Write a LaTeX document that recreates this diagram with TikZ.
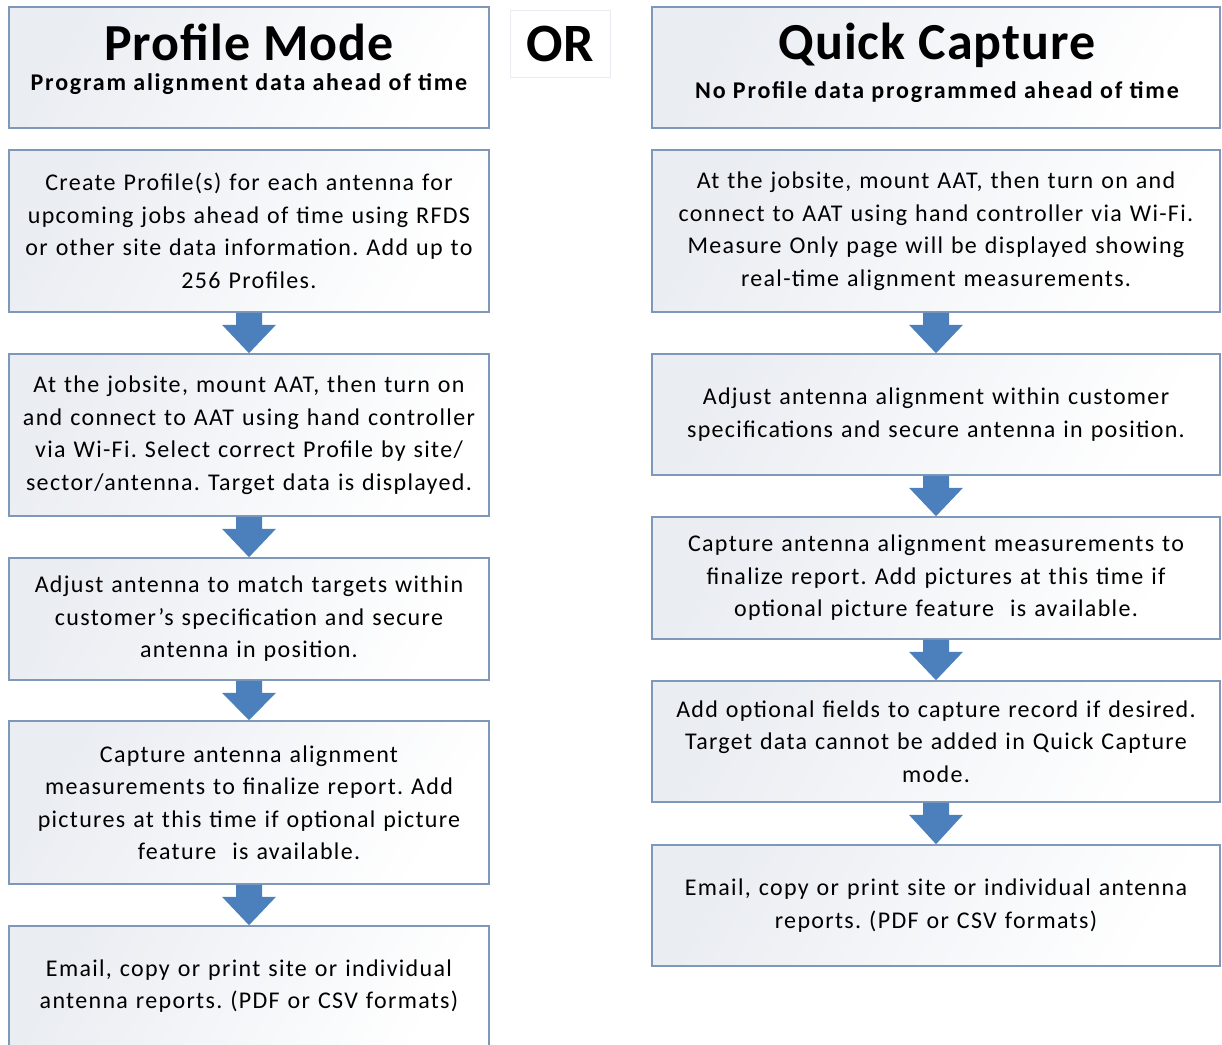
\documentclass[tikz,border=0pt]{standalone}
\usepackage{fontspec}
\setmainfont{Carlito}
\newfontfamily\bodyfont[LetterSpace=5.5]{Carlito}
\newfontfamily\subfont[LetterSpace=7.5]{Carlito}
\newfontfamily\titlefont[LetterSpace=2]{Carlito}
\usetikzlibrary{calc}
\definecolor{boxborder}{RGB}{125,152,185}
\definecolor{boxgray}{RGB}{234,237,242}
\definecolor{arrowblue}{RGB}{76,128,189}
\definecolor{orborder}{RGB}{232,236,240}
\tikzset{
  flowbox/.style={draw=boxborder, line width=1.6pt, left color=boxgray, right color=white, shading angle=60,
    rectangle, inner sep=0pt, align=center, font=\bodyfont\frenchspacing\fontsize{24}{32.5}\selectfont},
  lbox/.style={flowbox, minimum width=480, text width=478},
  rbox/.style={flowbox, minimum width=568, text width=566},
  titletext/.style={inner sep=0pt, font=\titlefont\bfseries\fontsize{52}{56}\selectfont},
  subtext/.style={inner sep=0pt, font=\subfont\bfseries\fontsize{24}{27}\selectfont},
}
\newcommand\blkarrow[2]{%
  \fill[arrowblue] ($(#1.south)+(-13,0)$) -- ($(#1.south)+(13,0)$) -- ($(#1.south)+(13,-12)$)
   -- ($(#1.south)+(27,-12)$) -- (#2.north) -- ($(#1.south)+(-27,-12)$) -- ($(#1.south)+(-13,-12)$) -- cycle;}
\begin{document}
\begin{tikzpicture}[x=1pt,y=1pt]
\useasboundingbox (0,0) rectangle (1222,-1044);
\begin{scope}
\clip (0,0) rectangle (1222,-1044);
% left column
\node[lbox, minimum height=121] (lh) at (249,-67.5) {};
\node[titletext] (lht) at (249,-42) {Profile Mode};
\node[subtext] (lhs) at (249,-84) {Program alignment data ahead of time};
\node[lbox, minimum height=162] (l1) at (249,-231) {Create Profile(s) for each antenna for\\upcoming jobs ahead of time using RFDS\\or other site data information. Add up to\\256 Profiles.};
\node[lbox, minimum height=162] (l2) at (249,-435) {At the jobsite, mount AAT, then turn on\\and connect to AAT using hand controller\\via Wi-Fi. Select correct Profile by site/\\sector/antenna. Target data is displayed.};
\node[lbox, minimum height=122] (l3) at (249,-619) {Adjust antenna to match targets within\\customer’s specification and secure\\antenna in position.};
\node[lbox, minimum height=163] (l4) at (249,-802.5) {Capture antenna alignment\\measurements to finalize report. Add\\pictures at this time if optional picture\\feature\ \ is available.};
\node[lbox, minimum height=120] (l5) at (249,-986) {Email, copy or print site or individual\\antenna reports. (PDF or CSV formats)};
% OR
\node[draw=orborder, line width=1pt, minimum width=100, minimum height=67, inner sep=0pt,
  font=\titlefont\bfseries\fontsize{54}{58}\selectfont] (or) at (560,-43.5) {OR};
% right column
\node[rbox, minimum height=121] (rh) at (936,-67.5) {};
\node[titletext] (rht) at (937,-45) {Quick Capture};
\node[subtext] (rhs) at (937,-92) {No Profile data programmed ahead of time};
\node[rbox, minimum height=162] (r1) at (936,-231) {At the jobsite, mount AAT, then turn on and\\connect to AAT using hand controller via Wi-Fi.\\Measure Only page will be displayed showing\\real-time alignment measurements.};
\node[rbox, minimum height=121] (r2) at (936,-414.5) {Adjust antenna alignment within customer\\specifications and secure antenna in position.};
\node[rbox, minimum height=122] (r3) at (936,-578) {Capture antenna alignment measurements to\\finalize report. Add pictures at this time if\\optional picture feature\ \ is available.};
\node[rbox, minimum height=121] (r4) at (936,-741.5) {Add optional fields to capture record if desired.\\Target data cannot be added in Quick Capture\\mode.};
\node[rbox, minimum height=121] (r5) at (936,-905.5) {Email, copy or print site or individual antenna\\reports. (PDF or CSV formats)};
% arrows
\blkarrow{l1}{l2}
\blkarrow{l2}{l3}
\blkarrow{l3}{l4}
\blkarrow{l4}{l5}
\blkarrow{r1}{r2}
\blkarrow{r2}{r3}
\blkarrow{r3}{r4}
\blkarrow{r4}{r5}
\end{scope}
\end{tikzpicture}
\end{document}
